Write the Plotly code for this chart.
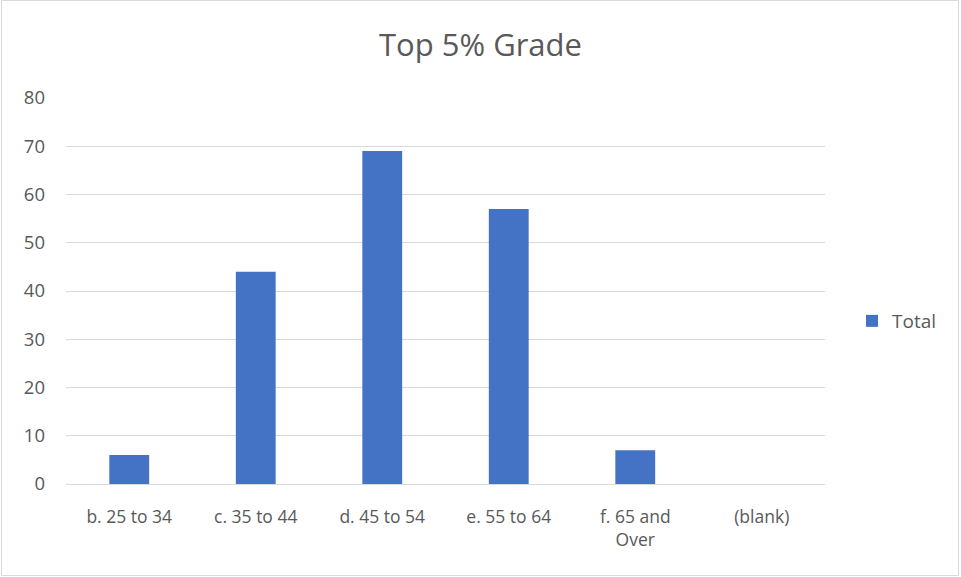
import plotly.graph_objects as go

categories = ["b. 25 to 34", "c. 35 to 44", "d. 45 to 54", "e. 55 to 64", "f. 65 and<br>Over", "(blank)"]
totals = [6, 44, 69, 57, 7, None]
series_name = "Total"
title_text = "Top 5% Grade"

BLUE = "#4472C4"
TEXT = "#595959"
GRID = "#d9d9d9"
FONT = "Open Sans, Liberation Sans, sans-serif"

fig = go.Figure()
fig.add_trace(go.Bar(
    x=categories, y=totals, name=series_name,
    marker=dict(color=BLUE, line=dict(width=0)),
    showlegend=True,
))

L, R, T, B = 66, 136, 98, 93
W, H = 961, 577
pw, ph = W - L - R, H - T - B

def px_x(x):
    return (x - L) / pw

def px_y(y):
    return (H - B - y) / ph

fig.update_layout(
    width=W, height=H,
    margin=dict(l=L, r=R, t=T, b=B),
    paper_bgcolor="white", plot_bgcolor="white",
    font=dict(family=FONT, color=TEXT, size=16),
    title=dict(text=title_text, x=0.5, xanchor="center", y=1 - 45 / H, yanchor="middle",
               font=dict(size=31, color=TEXT, family=FONT)),
    bargap=0.685,
    showlegend=True,
    legend=dict(x=px_x(852), y=px_y(321), xanchor="left", yanchor="middle",
                font=dict(size=19, color=TEXT, family=FONT),
                itemwidth=30, bgcolor="rgba(0,0,0,0)"),
    xaxis=dict(showgrid=False, showline=True, linecolor=GRID, linewidth=1,
               ticks="", tickfont=dict(size=17.5, color=TEXT), ticklabelstandoff=17,
               fixedrange=True),
    yaxis=dict(range=[0, 80], dtick=10, showgrid=True, gridcolor=GRID, gridwidth=1,
               zeroline=False, showline=False, ticks="",
               tickfont=dict(size=18.5, color=TEXT), ticklabelstandoff=20,
               fixedrange=True),
    shapes=[dict(type="rect", xref="paper", yref="paper",
                 x0=px_x(1.5), x1=px_x(958.5), y0=px_y(575.5), y1=px_y(0.5),
                 line=dict(color=GRID, width=1), fillcolor="rgba(0,0,0,0)", layer="below")],
)

fig.write_html("out.html", config={"displayModeBar": False},
               post_script="document.body.style.margin='0';document.body.style.overflow='hidden';")
